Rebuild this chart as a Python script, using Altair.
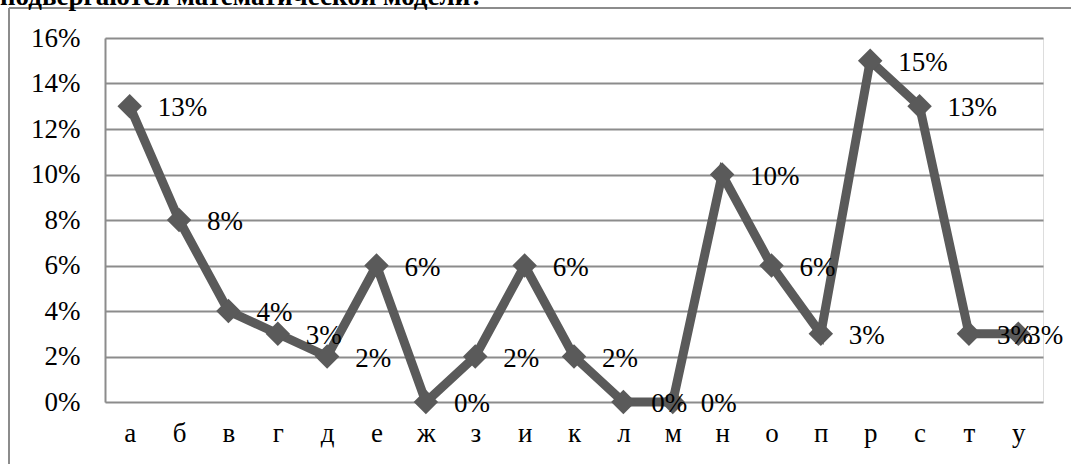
import altair as alt
import pandas as pd

categories = ["а", "б", "в", "г", "д", "е", "ж", "з", "и", "к", "л", "м", "н", "о", "п", "р", "с", "т", "у"]
values = [13, 8, 4, 3, 2, 6, 0, 2, 6, 2, 0, 0, 10, 6, 3, 15, 13, 3, 3]
y_ticks = [0, 0.02, 0.04, 0.06, 0.08, 0.10, 0.12, 0.14, 0.16]
caption = "подвергаются математической модели?"

df = pd.DataFrame({"cat": categories, "v": [v / 100 for v in values]})
df["last"] = [c == categories[-1] for c in categories]

FONT = "Times New Roman, Liberation Serif, DejaVu Serif, serif"
LINE = "#5a5a5a"
GRID = "#8c8c8c"

x = alt.X("cat:N", sort=categories, scale=alt.Scale(type="point", padding=0.5),
          axis=alt.Axis(title=None, labelAngle=0, ticks=False, domain=False,
                        labelFont=FONT, labelFontSize=27, labelColor="black",
                        labelPadding=18))
y = alt.Y("v:Q", scale=alt.Scale(domain=[0, 0.16], nice=False),
          axis=alt.Axis(title=None, values=y_ticks, format=".0%", ticks=False,
                        domainColor=GRID, domainWidth=2, gridColor=GRID, gridWidth=2,
                        labelFont=FONT, labelFontSize=27, labelColor="black",
                        labelPadding=25))

base = alt.Chart(df)
line = base.mark_line(color=LINE, strokeWidth=9).encode(x=x, y=y)
pts = base.mark_point(shape="diamond", filled=True, opacity=1, color=LINE, size=600).encode(x=x, y=y)
labels = base.transform_filter("!datum.last").mark_text(
    align="left", baseline="middle", dx=28, dy=2, font=FONT,
    fontSize=27, color="black").encode(x=x, y=y, text=alt.Text("v:Q", format=".0%"))
last_label = base.transform_filter("datum.last").mark_text(
    align="left", baseline="middle", dx=9, dy=2, font=FONT,
    fontSize=27, color="black").encode(x=x, y=y, text=alt.Text("v:Q", format=".0%"))

frame_df = pd.DataFrame({"a": [0]})
left_border = alt.Chart(frame_df).mark_rule(color=GRID, strokeWidth=2).encode(
    x=alt.value(-96), y=alt.value(-30), y2=alt.value(440))
top_border = alt.Chart(frame_df).mark_rule(color=GRID, strokeWidth=2).encode(
    x=alt.value(-96), x2=alt.value(1000), y=alt.value(-30))
cap = alt.Chart(frame_df).mark_text(align="left", baseline="alphabetic", font=FONT,
                                    fontSize=27, fontWeight="bold", color="black").encode(
    x=alt.value(-105), y=alt.value(-33), text=alt.value(caption))

chart = alt.layer(left_border, top_border, cap, line, pts, labels, last_label).properties(
    width=938, height=364,
    autosize=alt.AutoSizeParams(type="none"),
    padding={"left": 105, "top": 38, "right": 28, "bottom": 62},
).configure_view(stroke=None).configure(background="white")

chart.save("out.html", embed_options={"renderer": "svg", "actions": False})
